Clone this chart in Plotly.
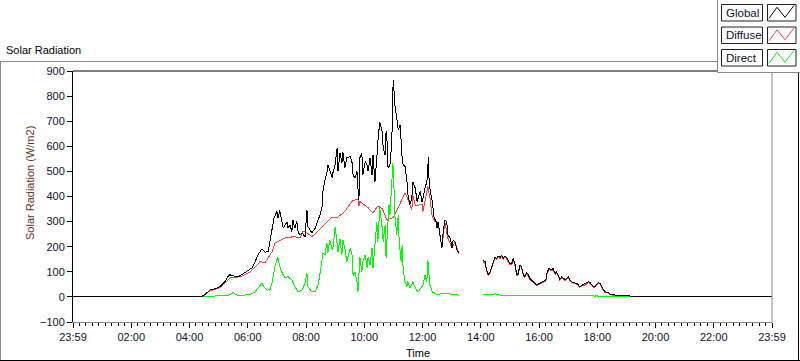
import plotly.graph_objects as go

# ---------------- data (minutes after 23:59 start, W/m2) ----------------
global_min_am = [0, 264, 272, 282, 293, 303, 313, 319, 323, 330, 338, 344, 350, 361, 369, 375, 381, 389, 396, 402,
                 406, 410, 414, 420, 422, 426, 431, 433, 441, 443, 447, 451, 453, 457, 461, 464, 468, 472, 478, 482,
                 484, 488, 492, 494, 499, 505, 509, 513, 515, 519, 523, 525, 529, 534, 536, 540, 544, 546, 550, 554,
                 556, 560, 564, 571, 575, 577, 581, 585, 587, 589, 591, 595, 597, 602, 606, 608, 612, 616, 618, 622,
                 626, 628, 632, 637, 639, 643, 645, 647, 649, 653, 657, 658, 660, 661, 663, 667, 670, 674, 676, 678,
                 680, 684, 688, 690, 694, 698, 700, 705, 709, 711, 715, 719, 721, 725, 729, 731, 732, 733, 735, 740,
                 742, 744, 748, 750, 752, 756, 760, 762, 766, 770, 772, 777, 781, 783, 787, 791, 793, 795]
global_am = [0, 0, 10, 27, 33, 41, 61, 81, 88, 84, 80, 84, 92, 104, 116, 140, 167, 191, 178, 180,
             227, 280, 313, 340, 313, 344, 295, 274, 300, 274, 287, 260, 307, 274, 300, 255, 247, 255, 240, 346,
             280, 267, 255, 260, 274, 307, 327, 360, 420, 466, 494, 526, 506, 474, 500, 526, 593, 500, 574, 534,
             579, 514, 554, 559, 534, 486, 474, 500, 434, 386, 554, 574, 486, 539, 526, 500, 554, 486, 566, 459,
             554, 619, 698, 659, 594, 566, 659, 619, 514, 526, 619, 793, 865, 833, 765, 713, 665, 685, 579, 554,
             526, 520, 459, 406, 367, 394, 459, 434, 380, 394, 420, 380, 394, 434, 459, 514, 559, 486, 434, 380,
             327, 315, 300, 274, 300, 235, 194, 247, 307, 300, 247, 235, 194, 227, 220, 187, 180, 175]

global_min_pm = [845, 849, 852, 856, 859, 863, 866, 869, 873, 876, 880, 883, 886, 890, 893, 897, 900, 904, 907, 911,
                 914, 917, 921, 924, 928, 931, 935, 938, 941, 948, 955, 962, 969, 974, 977, 981, 986, 989, 993, 996,
                 1000, 1003, 1007, 1010, 1014, 1017, 1020, 1024, 1027, 1031, 1038, 1044, 1051, 1058, 1062, 1065,
                 1069, 1072, 1075, 1079, 1082, 1086, 1089, 1092, 1096, 1103, 1106, 1113, 1127, 1147, 1151, 1440]
global_pm = [147, 140, 108, 88, 100, 127, 147, 158, 154, 163, 158, 167, 154, 163, 158, 140, 134, 134, 154, 127,
             88, 94, 127, 121, 88, 81, 97, 88, 74, 61, 48, 54, 61, 68, 100, 114, 108, 114, 94, 100,
             84, 70, 81, 74, 68, 74, 81, 68, 61, 57, 54, 41, 48, 54, 61, 57,
             48, 41, 41, 52, 57, 54, 41, 30, 20, 17, 12, 8, 6, 4, 0, 0]

diffuse_min_am = [264, 272, 282, 293, 303, 313, 323, 334, 344, 354, 365, 375, 385, 396, 402, 410, 416, 426, 437, 447,
                  457, 468, 474, 482, 492, 505, 515, 525, 534, 544, 550, 560, 564, 577, 587, 589, 591, 597, 608, 618,
                  628, 637, 647, 653, 659, 663, 670, 678, 684, 688, 694, 698, 700, 705, 711, 719, 721, 725, 729, 731,
                  735, 740, 746, 752, 760, 766, 772, 781, 787, 793, 795]
diffuse_am = [0, 8, 25, 30, 38, 55, 75, 78, 80, 88, 100, 118, 140, 137, 155, 180, 215, 225, 235, 238,
              240, 235, 262, 255, 240, 262, 280, 300, 318, 315, 325, 340, 352, 385, 388, 362, 380, 372, 355, 335,
              362, 352, 305, 312, 315, 330, 355, 390, 415, 400, 362, 345, 405, 365, 365, 370, 340, 375, 420, 440,
              400, 320, 300, 295, 194, 300, 235, 194, 220, 175, 170]

diffuse_min_pm = global_min_pm[:-1]
diffuse_pm = [140, 133, 103, 85, 96, 122, 142, 153, 150, 158, 153, 162, 150, 158, 152, 135, 128, 130, 148, 122,
              84, 90, 122, 116, 84, 78, 92, 84, 70, 58, 46, 51, 58, 64, 95, 108, 104, 109, 90, 96,
              80, 67, 77, 71, 65, 70, 77, 65, 58, 54, 51, 39, 45, 51, 58, 54,
              45, 39, 39, 49, 54, 51, 39, 28, 18, 15, 10, 6, 4, 3, 0]

direct_min_am = [264, 282, 303, 313, 323, 330, 336, 344, 354, 365, 375, 379, 385, 389, 393, 400, 406, 410, 416, 422,
                 426, 431, 437, 443, 451, 457, 464, 472, 478, 482, 484, 492, 499, 505, 509, 513, 515, 519, 523, 525,
                 529, 534, 536, 540, 544, 546, 550, 554, 556, 560, 564, 566, 571, 575, 577, 581, 585, 587, 589, 591,
                 595, 597, 602, 606, 608, 612, 616, 618, 622, 626, 628, 632, 637, 639, 643, 645, 647, 651, 653, 657,
                 659, 661, 663, 667, 670, 672, 676, 678, 680, 684, 688, 690, 694, 698, 700, 705, 711, 719, 721, 725,
                 729, 731, 733, 735, 740, 746, 752, 760, 766, 772, 781, 787, 793, 795]
direct_am = [0, 3, 5, 4, 8, 18, 8, 5, 6, 10, 20, 30, 45, 55, 40, 27, 30, 55, 121, 160,
             121, 95, 75, 81, 67, 41, 20, 27, 55, 95, 41, 20, 20, 48, 95, 147, 175, 167, 215, 175,
             227, 187, 200, 280, 227, 180, 230, 167, 227, 194, 140, 160, 194, 167, 86, 100, 61, 20, 75, 160,
             100, 140, 167, 115, 160, 127, 194, 115, 207, 300, 220, 355, 274, 220, 287, 155, 235, 367, 327, 446,
             534, 446, 327, 247, 327, 220, 140, 207, 115, 60, 41, 61, 36, 48, 61, 36, 20, 41, 48, 86,
             61, 147, 86, 48, 20, 15, 8, 15, 12, 15, 8, 12, 8, 6]

direct_min_pm = [845, 856, 866, 869, 876, 880, 921, 962, 1003, 1044, 1072, 1075, 1079, 1082, 1089, 1106, 1127, 1147]
direct_pm = [8, 7, 8, 12, 11, 7, 7, 7, 7, 6, 6, 2, 6, 2, 3, 3, 3, 2]

tick_minutes = [0, 120, 240, 360, 480, 600, 720, 840, 960, 1080, 1200, 1320, 1440]
tick_labels = ["23:59", "02:00", "04:00", "06:00", "08:00", "10:00", "12:00",
               "14:00", "16:00", "18:00", "20:00", "22:00", "23:59"]
series_names = ["Global", "Diffuse", "Direct"]
series_colors = ["#000000", "#ff4040", "#00ff00"]

for a, b in [(global_min_am, global_am), (global_min_pm, global_pm), (diffuse_min_am, diffuse_am),
             (diffuse_min_pm, diffuse_pm), (direct_min_am, direct_am), (direct_min_pm, direct_pm)]:
    assert len(a) == len(b), (len(a), len(b))

FONT = "Liberation Sans, Arial, sans-serif"

def join(xa, ya, xb, yb):
    return xa + [None] + xb, ya + [None] + yb

fig = go.Figure()
for name, color, (xs, ys) in [
    ("Diffuse", series_colors[1], join(diffuse_min_am, diffuse_am, diffuse_min_pm, diffuse_pm)),
    ("Direct", series_colors[2], join(direct_min_am, direct_am, direct_min_pm, direct_pm)),
    ("Global", series_colors[0], join(global_min_am, global_am, global_min_pm, global_pm)),
]:
    fig.add_trace(go.Scatter(x=xs, y=ys, mode="lines", name=name, connectgaps=False,
                             line=dict(color=color, width=1), showlegend=False, hoverinfo="skip"))

# pixel -> paper helpers (plot area: x 73..772, y 71..322)
L, R, T, B = 73, 772, 71, 322
def px(x):
    return (x - L) / (R - L)
def py(y):
    return (B - y) / (B - T)

shapes = []
def line(x0, y0, x1, y1, color, w=1):
    shapes.append(dict(type="line", xref="paper", yref="paper", x0=px(x0), y0=py(y0), x1=px(x1), y1=py(y1),
                       line=dict(color=color, width=w), layer="above"))
def rect(x0, y0, x1, y1, color, fill=None):
    shapes.append(dict(type="rect", xref="paper", yref="paper", x0=px(x0), y0=py(y0), x1=px(x1), y1=py(y1),
                       line=dict(color=color, width=1), fillcolor=fill or "rgba(0,0,0,0)", layer="above"))

GRAY = "#8a8a8a"
# outer panel
line(0.5, 61.5, 0.5, 361, GRAY)
line(0, 61.5, 717, 61.5, GRAY)
line(0, 360.5, 800, 360.5, "#000000")
line(798.5, 72, 798.5, 361, "#000000")
# plot frame top / right
line(73, 71, 772, 71, "#000000")
line(772, 71, 772, 322, GRAY)
# legend panel
rect(717.5, -2, 802, 72.5, GRAY, "#ffffff")

annotations = []
row_tops = [4, 26.5, 49]
for name, color, top in zip(series_names, series_colors, row_tops):
    rect(721.5, top + 0.5, 762.5, top + 17, "#202020", "#ffffff")
    rect(767.5, top + 0.5, 796, top + 17, "#202020", "#ffffff")
    pts = [(769, top + 14.3), (777, top + 3.3), (785, top + 13.3), (794, top + 1.5)]
    path = "M " + " L ".join(f"{px(x)},{py(y)}" for x, y in pts)
    shapes.append(dict(type="path", xref="paper", yref="paper", path=path,
                       line=dict(color=color, width=1), layer="above"))
    annotations.append(dict(xref="paper", yref="paper", x=px(723.5), y=py(top + 9), text=name,
                            showarrow=False, xanchor="left", yanchor="middle",
                            font=dict(family=FONT, size=11.5, color="#10102a")))

annotations.append(dict(xref="paper", yref="paper", x=px(4), y=py(50), text="Solar Radiation",
                        showarrow=False, xanchor="left", yanchor="middle",
                        font=dict(family=FONT, size=11, color="#000000")))
annotations.append(dict(xref="paper", yref="paper", x=px(30), y=py(183), text="Solar Radiation (W/m2)",
                        showarrow=False, xanchor="center", yanchor="middle", textangle=-90,
                        font=dict(family=FONT, size=11, color="#6a3418")))
annotations.append(dict(xref="paper", yref="paper", x=px(418), y=py(353), text="Time",
                        showarrow=False, xanchor="center", yanchor="middle",
                        font=dict(family=FONT, size=11, color="#000000")))

fig.update_layout(
    width=800, height=361,
    margin=dict(l=L, r=800 - R, t=T, b=361 - B, pad=0),
    paper_bgcolor="#ffffff", plot_bgcolor="#ffffff",
    shapes=shapes, annotations=annotations, showlegend=False, hovermode=False,
    xaxis=dict(range=[0, 1440], tickmode="array", tickvals=tick_minutes, ticktext=tick_labels,
               ticks="outside", ticklen=5, tickcolor="#000000", showline=True, linecolor=GRAY, linewidth=1,
               showgrid=False, zeroline=False,
               tickfont=dict(family=FONT, size=11, color="#10102a"),
               minor=dict(tickmode="linear", tick0=0, dtick=120 / 9, ticks="outside", ticklen=3,
                          tickcolor="#000000", showgrid=False)),
    yaxis=dict(range=[-100, 900], tickmode="linear", tick0=-100, dtick=100,
               ticks="outside", ticklen=5, tickcolor="#000000", showline=True, linecolor="#000000",
               linewidth=1, showgrid=False, zeroline=False,
               tickfont=dict(family=FONT, size=11, color="#10102a")),
)

post = ("document.body.style.margin='0';document.body.style.overflow='hidden';"
        "var s=document.createElement('style');"
        "s.textContent='.scatterlayer path.js-line{shape-rendering:crispEdges}';"
        "document.head.appendChild(s);")
fig.write_html("out.html", config={"displayModeBar": False, "staticPlot": True}, post_script=post)
